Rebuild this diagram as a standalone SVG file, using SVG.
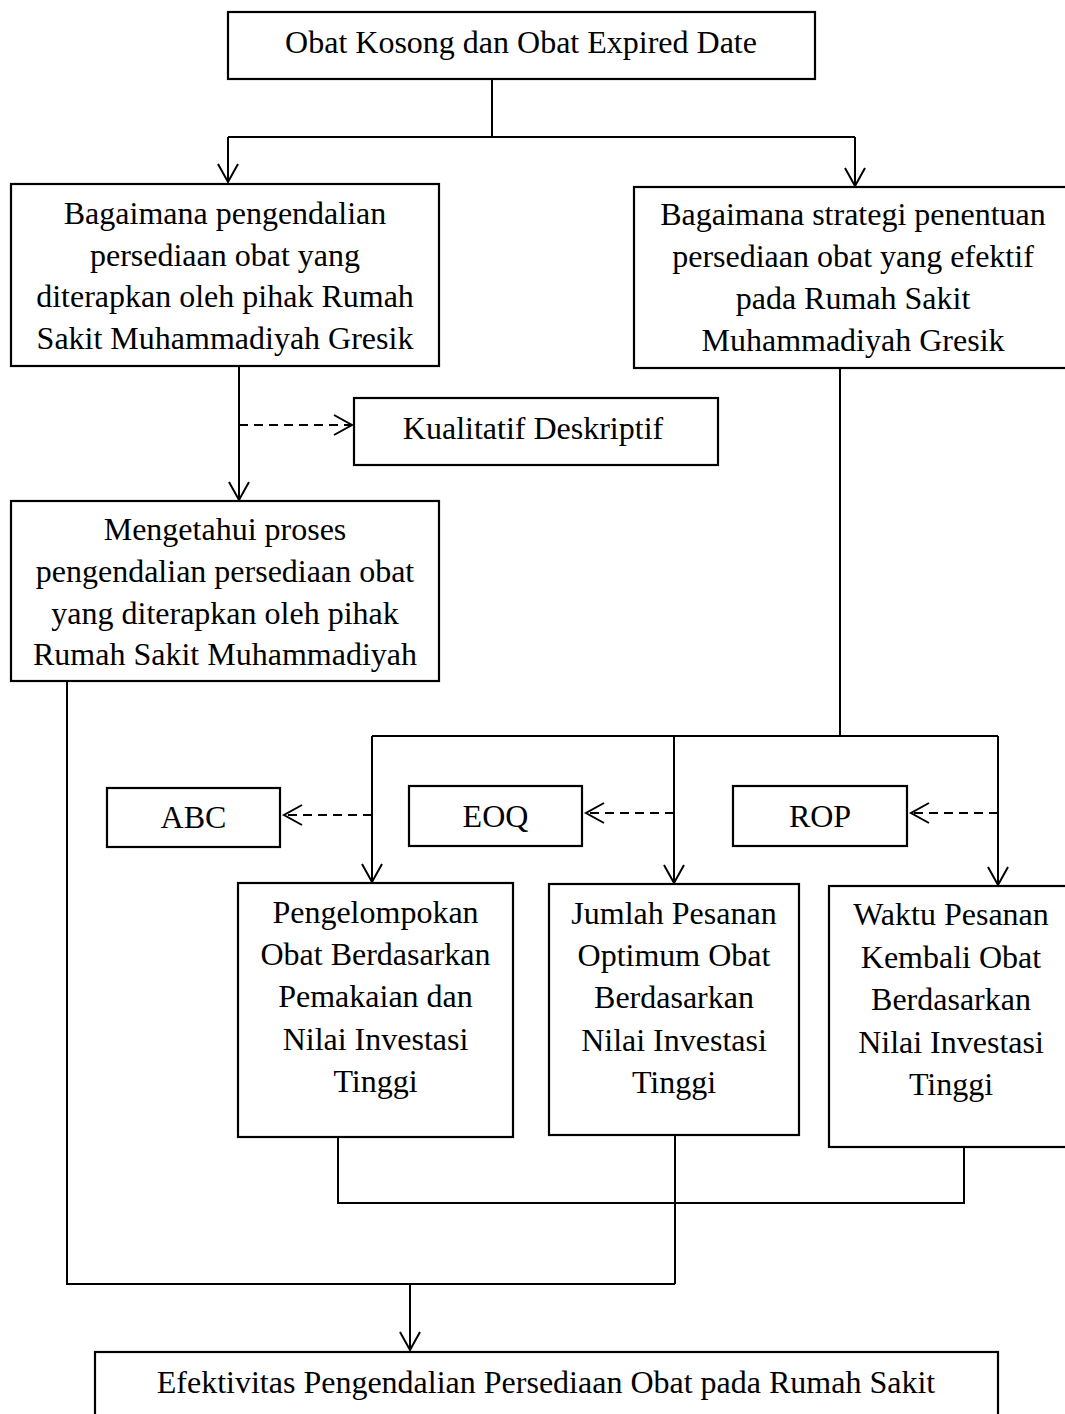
<svg xmlns="http://www.w3.org/2000/svg" width="1065" height="1414" viewBox="0 0 1065 1414">
<style>
.box{fill:#fff;stroke:#000;stroke-width:2.2}
.ln{fill:none;stroke:#000;stroke-width:2}
.dash{fill:none;stroke:#000;stroke-width:2;stroke-dasharray:9 6}
text{font-family:"Liberation Serif","Times New Roman",serif;font-size:32px;fill:#000;text-anchor:middle}
</style>
<defs>
<marker id="ah" markerUnits="userSpaceOnUse" markerWidth="26" markerHeight="26" viewBox="-22 -13 26 26" refX="0" refY="0" orient="auto">
<path d="M-18,-10 L0,0 L-18,10" fill="none" stroke="#000" stroke-width="2"/>
</marker>
</defs>
<rect width="1065" height="1414" fill="#fff"/>
<g id="connectors">
<path class="ln" d="M492,79 V137 M228,137 H855"/>
<path class="ln" d="M228,137 V182" marker-end="url(#ah)"/>
<path class="ln" d="M855,137 V186" marker-end="url(#ah)"/>
<path class="ln" d="M239,366 V500" marker-end="url(#ah)"/>
<path class="dash" d="M239,425 H352" marker-end="url(#ah)"/>
<path class="ln" d="M67,681 V1284 H675"/>
<path class="ln" d="M840,368 V736 M372,736 H998"/>
<path class="ln" d="M372,736 V882" marker-end="url(#ah)"/>
<path class="ln" d="M674,736 V883" marker-end="url(#ah)"/>
<path class="ln" d="M998,736 V885" marker-end="url(#ah)"/>
<path class="dash" d="M372,815 H284" marker-end="url(#ah)"/>
<path class="dash" d="M674,813 H586" marker-end="url(#ah)"/>
<path class="dash" d="M998,813 H911" marker-end="url(#ah)"/>
<path class="ln" d="M338,1137 V1203 H964 V1147"/>
<path class="ln" d="M675,1135 V1284"/>
<path class="ln" d="M410,1284 V1350" marker-end="url(#ah)"/>
</g>
<g id="n-top">
<rect class="box" x="228" y="12" width="587" height="67"/>
<text x="521" y="53">Obat Kosong dan Obat Expired Date</text>
</g>
<g id="n-q1">
<rect class="box" x="11" y="184" width="428" height="182"/>
<text x="225" y="224">Bagaimana pengendalian</text>
<text x="225" y="266">persediaan obat yang</text>
<text x="225" y="307">diterapkan oleh pihak Rumah</text>
<text x="225" y="349">Sakit Muhammadiyah Gresik</text>
</g>
<g id="n-q2">
<rect class="box" x="634" y="187" width="438" height="181"/>
<text x="853" y="225">Bagaimana strategi penentuan</text>
<text x="853" y="267">persediaan obat yang efektif</text>
<text x="853" y="309">pada Rumah Sakit</text>
<text x="853" y="351">Muhammadiyah Gresik</text>
</g>
<g id="n-kualitatif">
<rect class="box" x="354" y="398" width="364" height="67"/>
<text x="533" y="439">Kualitatif Deskriptif</text>
</g>
<g id="n-mengetahui">
<rect class="box" x="11" y="501" width="428" height="180"/>
<text x="225" y="540">Mengetahui proses</text>
<text x="225" y="582">pengendalian persediaan obat</text>
<text x="225" y="624">yang diterapkan oleh pihak</text>
<text x="225" y="665">Rumah Sakit Muhammadiyah</text>
</g>
<g id="n-abc">
<rect class="box" x="107" y="788" width="173" height="59"/>
<text x="193.5" y="828">ABC</text>
</g>
<g id="n-eoq">
<rect class="box" x="409" y="786" width="173" height="60"/>
<text x="495.5" y="827">EOQ</text>
</g>
<g id="n-rop">
<rect class="box" x="733" y="786" width="174" height="60"/>
<text x="820" y="827">ROP</text>
</g>
<g id="n-b1">
<rect class="box" x="238" y="883" width="275" height="254"/>
<text x="375.5" y="923">Pengelompokan</text>
<text x="375.5" y="965">Obat Berdasarkan</text>
<text x="375.5" y="1007">Pemakaian dan</text>
<text x="375.5" y="1050">Nilai Investasi</text>
<text x="375.5" y="1092">Tinggi</text>
</g>
<g id="n-b2">
<rect class="box" x="549" y="884" width="250" height="251"/>
<text x="674" y="924">Jumlah Pesanan</text>
<text x="674" y="966">Optimum Obat</text>
<text x="674" y="1008">Berdasarkan</text>
<text x="674" y="1051">Nilai Investasi</text>
<text x="674" y="1093">Tinggi</text>
</g>
<g id="n-b3">
<rect class="box" x="829" y="886" width="244" height="261"/>
<text x="951" y="925">Waktu Pesanan</text>
<text x="951" y="968">Kembali Obat</text>
<text x="951" y="1010">Berdasarkan</text>
<text x="951" y="1053">Nilai Investasi</text>
<text x="951" y="1095">Tinggi</text>
</g>
<g id="n-bottom">
<rect class="box" x="95" y="1352" width="903" height="100"/>
<text x="546" y="1393">Efektivitas Pengendalian Persediaan Obat pada Rumah Sakit</text>
</g>
</svg>
